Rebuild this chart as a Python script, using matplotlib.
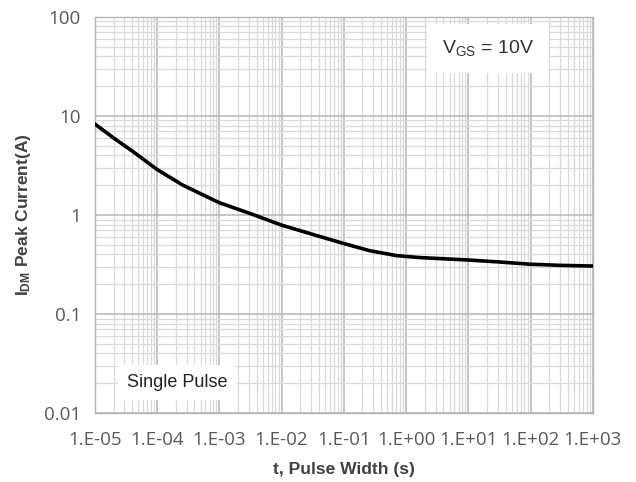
import numpy as np
import matplotlib
matplotlib.use('Agg')
import matplotlib.pyplot as plt
from matplotlib.ticker import LogLocator, FixedLocator, NullFormatter

plt.rcParams['font.family'] = ['Liberation Sans', 'DejaVu Sans']
plt.rcParams['mathtext.fontset'] = 'custom'
plt.rcParams['mathtext.rm'] = 'Liberation Sans'
plt.rcParams['mathtext.bf'] = 'Liberation Sans:bold'

# pulse width (s) and peak current (A)
t_pulse = [1e-5, 2e-5, 4e-5, 1e-4, 2.6e-4, 1e-3, 3.2e-3, 1e-2, 4e-2, 1e-1,
           0.26, 0.7, 1.6, 10.0, 30.0, 100.0, 300.0, 1000.0]
i_peak = [8.3, 6.0, 4.42, 2.88, 2.0, 1.33, 1.03, 0.79, 0.61, 0.515,
          0.436, 0.389, 0.372, 0.351, 0.336, 0.318, 0.31, 0.305]

x_ticks = [1e-5, 1e-4, 1e-3, 1e-2, 1e-1, 1e0, 1e1, 1e2, 1e3]
x_labels = ['1.E-05', '1.E-04', '1.E-03', '1.E-02', '1.E-01', '1.E+00', '1.E+01', '1.E+02', '1.E+03']
y_ticks = [0.01, 0.1, 1, 10, 100]
y_labels = ['0.01', '0.1', '1', '10', '100']

fig = plt.figure(figsize=(6.36, 4.82), dpi=100)
ax = fig.add_axes([0.149, 0.143, 0.783, 0.822])

ax.set_xscale('log')
ax.set_yscale('log')
ax.set_xlim(1e-5, 1e3)
ax.set_ylim(0.01, 100)

ax.xaxis.set_major_locator(FixedLocator(x_ticks))
ax.set_xticklabels(x_labels)
ax.yaxis.set_major_locator(FixedLocator(y_ticks))
ax.set_yticklabels(y_labels)
ax.xaxis.set_minor_locator(LogLocator(base=10, subs=np.arange(2, 10), numticks=50))
ax.yaxis.set_minor_locator(LogLocator(base=10, subs=np.arange(2, 10), numticks=50))
ax.xaxis.set_minor_formatter(NullFormatter())
ax.yaxis.set_minor_formatter(NullFormatter())

ax.grid(which='minor', color='#d9d9d9', linewidth=0.9)
ax.grid(which='major', color='#b5b5b5', linewidth=1.1)
ax.set_axisbelow(True)
for s in ax.spines.values():
    s.set_color('#b5b5b5')
    s.set_linewidth(1.0)

ax.tick_params(which='both', length=0, colors='#595959', labelsize=13.5)
ax.tick_params(axis='x', pad=13)
ax.tick_params(axis='y', pad=10)
for lab in ax.get_xticklabels() + ax.get_yticklabels():
    lab.set_family(['Open Sans', 'DejaVu Sans'])

ax.plot(t_pulse, i_peak, color='black', linewidth=2.6, solid_joinstyle='round', zorder=3)

ax.text(0.79, 0.92, r'V$_{\mathregular{GS}}$ = 10V', transform=ax.transAxes,
        ha='center', va='center', fontsize=14, color='#333333',
        bbox=dict(facecolor='white', edgecolor='none', boxstyle='square,pad=0.75'), zorder=4)
ax.text(0.165, 0.078, 'Single Pulse', transform=ax.transAxes,
        ha='center', va='center', fontsize=13, color='#222222',
        bbox=dict(facecolor='white', edgecolor='none', boxstyle='square,pad=0.5'), zorder=4)

ax.set_xlabel('t, Pulse Width (s)', fontsize=12.5, fontweight='bold', color='#404040', labelpad=9)
ax.set_ylabel(r'$\mathbf{I_{DM}}$ Peak Current(A)', fontsize=12.5, fontweight='bold', color='#404040', labelpad=8)

fig.savefig('out.png', dpi=100)
